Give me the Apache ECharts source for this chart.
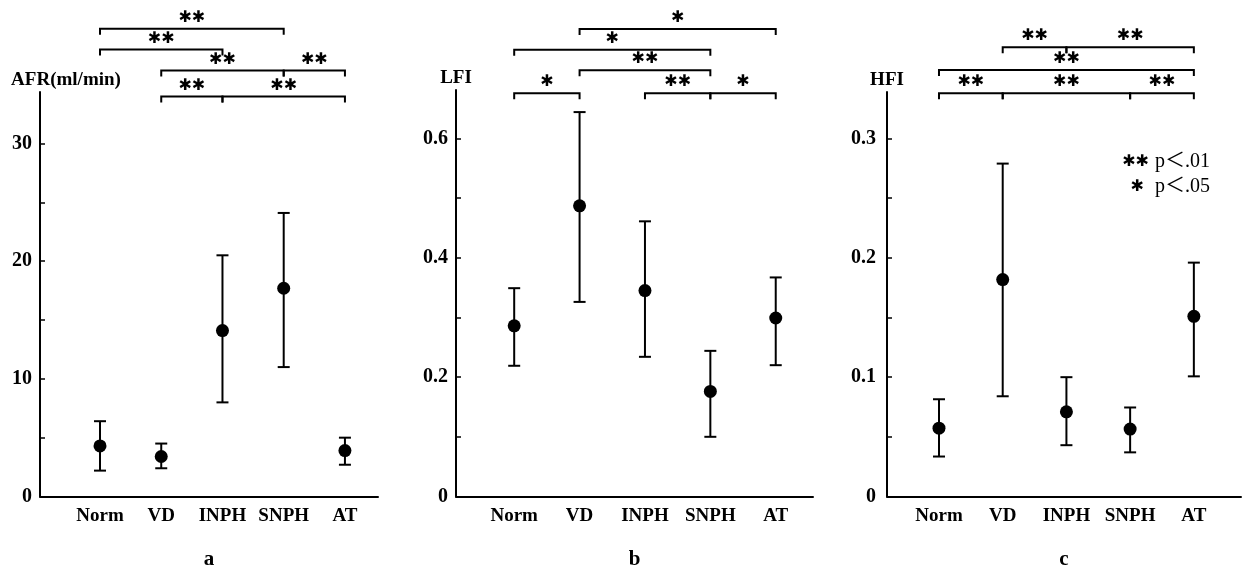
<!DOCTYPE html>
<html><head><meta charset="utf-8">
<script src="https://cdn.jsdelivr.net/npm/echarts@6/dist/echarts.min.js"></script>
<style>html,body{margin:0;padding:0;background:#fff}#chart{width:1245px;height:575px}</style>
</head><body><div id="chart"></div>
<script>
const categories = ['Norm', 'VD', 'INPH', 'SNPH', 'AT'];

// Panel a: AFR (ml/min)
const afrMean = [4.3, 3.4, 14.1, 17.7, 3.9];
const afrLow  = [2.2, 2.4, 8.0, 11.0, 2.7];
const afrHigh = [6.4, 4.5, 20.5, 24.1, 5.0];
const afrTicks = [0, 10, 20, 30];
const afrMinorTicks = [0, 5, 10, 15, 20, 25, 30];
const afrBrackets = [
  ['VD', 'INPH', 34.0, '✱✱'], ['INPH', 'AT', 34.0, '✱✱'],
  ['VD', 'SNPH', 36.2, '✱✱'], ['SNPH', 'AT', 36.2, '✱✱'],
  ['Norm', 'INPH', 38.0, '✱✱'],
  ['Norm', 'SNPH', 39.75, '✱✱']
];

// Panel b: LFI
const lfiMean = [0.286, 0.487, 0.345, 0.176, 0.299];
const lfiLow  = [0.219, 0.326, 0.234, 0.100, 0.220];
const lfiHigh = [0.349, 0.644, 0.461, 0.244, 0.367];
const lfiTicks = [0, 0.2, 0.4, 0.6];
const lfiMinorTicks = [0, 0.1, 0.2, 0.3, 0.4, 0.5, 0.6];
const lfiBrackets = [
  ['Norm', 'VD', 0.6755, '✱'], ['INPH', 'SNPH', 0.6755, '✱✱'], ['SNPH', 'AT', 0.6755, '✱'],
  ['VD', 'SNPH', 0.714, '✱✱'],
  ['Norm', 'SNPH', 0.7485, '✱'],
  ['VD', 'AT', 0.783, '✱']
];

// Panel c: HFI
const hfiMean = [0.0573, 0.1818, 0.071, 0.0565, 0.151];
const hfiLow  = [0.0335, 0.084, 0.043, 0.037, 0.1007];
const hfiHigh = [0.0815, 0.279, 0.100, 0.0746, 0.196];
const hfiTicks = [0, 0.1, 0.2, 0.3];
const hfiMinorTicks = [0, 0.05, 0.1, 0.15, 0.2, 0.25, 0.3];
const hfiBrackets = [
  ['Norm', 'VD', 0.338, '✱✱'], ['VD', 'SNPH', 0.338, '✱✱'], ['SNPH', 'AT', 0.338, '✱✱'],
  ['Norm', 'AT', 0.3575, '✱✱'],
  ['VD', 'INPH', 0.3765, '✱✱'], ['INPH', 'AT', 0.3765, '✱✱']
];

const panels = [
  {name: 'AFR(ml/min)', letter: 'a', mean: afrMean, low: afrLow, high: afrHigh, ticks: afrTicks, minor: afrMinorTicks, brackets: afrBrackets,
   grid: {left: 40, right: 867, top: 92, bottom: 75}, ymax: 34.38, xmin: -0.98, xmax: 4.54, labelMargin: 8, namePad: [0, 0, 0, 52]},
  {name: 'LFI', letter: 'b', mean: lfiMean, low: lfiLow, high: lfiHigh, ticks: lfiTicks, minor: lfiMinorTicks, brackets: lfiBrackets,
   grid: {left: 456, right: 432, top: 90, bottom: 74}, ymax: 0.681, xmin: -0.89, xmax: 4.57, labelMargin: 8, namePad: [0, 0, 0, 0]},
  {name: 'HFI', letter: 'c', mean: hfiMean, low: hfiLow, high: hfiHigh, ticks: hfiTicks, minor: hfiMinorTicks, brackets: hfiBrackets,
   grid: {left: 887, right: 4, top: 92, bottom: 76}, ymax: 0.339, xmin: -0.816, xmax: 4.74, labelMargin: 11, namePad: [0, 0, 0, 0]}
];

const serif = '"Liberation Serif", "Times New Roman", serif';

function errorBarItem(params, api) {
  const x = api.value(0), lo = api.value(1), hi = api.value(2);
  const pLo = api.coord([x, lo]), pHi = api.coord([x, hi]);
  const w = 6;
  const st = {stroke: '#000', lineWidth: 2};
  return {type: 'group', children: [
    {type: 'line', shape: {x1: pLo[0], y1: pLo[1], x2: pHi[0], y2: pHi[1]}, style: st},
    {type: 'line', shape: {x1: pLo[0] - w, y1: pLo[1], x2: pLo[0] + w, y2: pLo[1]}, style: st},
    {type: 'line', shape: {x1: pHi[0] - w, y1: pHi[1], x2: pHi[0] + w, y2: pHi[1]}, style: st}
  ]};
}

function makeBracketItem(labels) {
  return function (params, api) {
    const a = api.coord([api.value(0), api.value(2)]);
    const b = api.coord([api.value(1), api.value(2)]);
    const leg = 6;
    return {type: 'group', children: [
      {type: 'polyline', shape: {points: [[a[0], a[1] + leg], [a[0], a[1]], [b[0], b[1]], [b[0], b[1] + leg]]},
       style: {stroke: '#000', lineWidth: 2, fill: null}},
      {type: 'text', style: {text: labels[params.dataIndex], x: (a[0] + b[0]) / 2, y: a[1] - 3,
        align: 'center', verticalAlign: 'bottom', fontSize: 16, fontFamily: '"DejaVu Sans"', fill: '#000'}}
    ]};
  };
}

const grids = [], xAxes = [], yAxes = [], series = [];
panels.forEach((p, i) => {
  grids.push(Object.assign({containLabel: false}, p.grid));
  xAxes.push({
    gridIndex: i, type: 'value', min: p.xmin, max: p.xmax,
    name: p.letter, nameLocation: 'middle', nameGap: 63,
    nameTextStyle: {fontFamily: serif, fontWeight: 'bold', fontSize: 21, color: '#000', verticalAlign: 'middle'},
    axisLine: {show: true, onZero: false, lineStyle: {color: '#000', width: 2}},
    axisTick: {show: false},
    splitLine: {show: false},
    axisLabel: {customValues: [0, 1, 2, 3, 4], formatter: v => categories[Math.round(v)] || '',
      fontFamily: serif, fontWeight: 'bold', fontSize: 19, color: '#000', margin: 10}
  });
  yAxes.push({
    gridIndex: i, type: 'value', min: 0, max: p.ymax,
    name: p.name, nameLocation: 'end', nameGap: 12,
    nameTextStyle: {fontFamily: serif, fontWeight: 'bold', fontSize: 19, color: '#000', align: 'center', verticalAlign: 'middle', padding: p.namePad},
    axisLine: {show: true, onZero: false, lineStyle: {color: '#000', width: 2}},
    axisTick: {show: true, inside: true, length: 5, customValues: p.minor, lineStyle: {color: '#000', width: 1.5}},
    splitLine: {show: false},
    axisLabel: {customValues: p.ticks, fontFamily: serif, fontWeight: 'bold', fontSize: 20, color: '#000', margin: p.labelMargin}
  });
  series.push({
    type: 'custom', xAxisIndex: i, yAxisIndex: i, renderItem: errorBarItem, clip: false,
    encode: {x: 0, y: [1, 2]},
    data: categories.map((c, k) => [k, p.low[k], p.high[k]]), z: 2
  });
  series.push({
    type: 'scatter', xAxisIndex: i, yAxisIndex: i, symbol: 'circle', symbolSize: 13,
    itemStyle: {color: '#000', opacity: 1}, data: categories.map((c, k) => [k, p.mean[k]]), z: 3
  });
  series.push({
    type: 'custom', xAxisIndex: i, yAxisIndex: i, clip: false,
    renderItem: makeBracketItem(p.brackets.map(b => b[3])),
    encode: {x: [0, 1], y: 2},
    data: p.brackets.map(b => [categories.indexOf(b[0]), categories.indexOf(b[1]), b[2]]), z: 2
  });
});

const chart = echarts.init(document.getElementById('chart'), null, {renderer: 'canvas'});
chart.setOption({
  backgroundColor: '#fff',
  animation: false,
  grid: grids, xAxis: xAxes, yAxis: yAxes, series: series,
  graphic: [
    {type: 'text', right: 1245 - 1149, top: 154, style: {text: '✱✱', fontSize: 16, fontFamily: '"DejaVu Sans"', fill: '#000'}},
    {type: 'text', left: 1155, top: 152, style: {text: 'p＜.01', fontSize: 20, fontFamily: serif + ', "Noto Sans CJK JP"', fill: '#000'}},
    {type: 'text', right: 1245 - 1144, top: 179, style: {text: '✱', fontSize: 16, fontFamily: '"DejaVu Sans"', fill: '#000'}},
    {type: 'text', left: 1155, top: 177, style: {text: 'p＜.05', fontSize: 20, fontFamily: serif + ', "Noto Sans CJK JP"', fill: '#000'}}
  ]
});
</script>
</body></html>
